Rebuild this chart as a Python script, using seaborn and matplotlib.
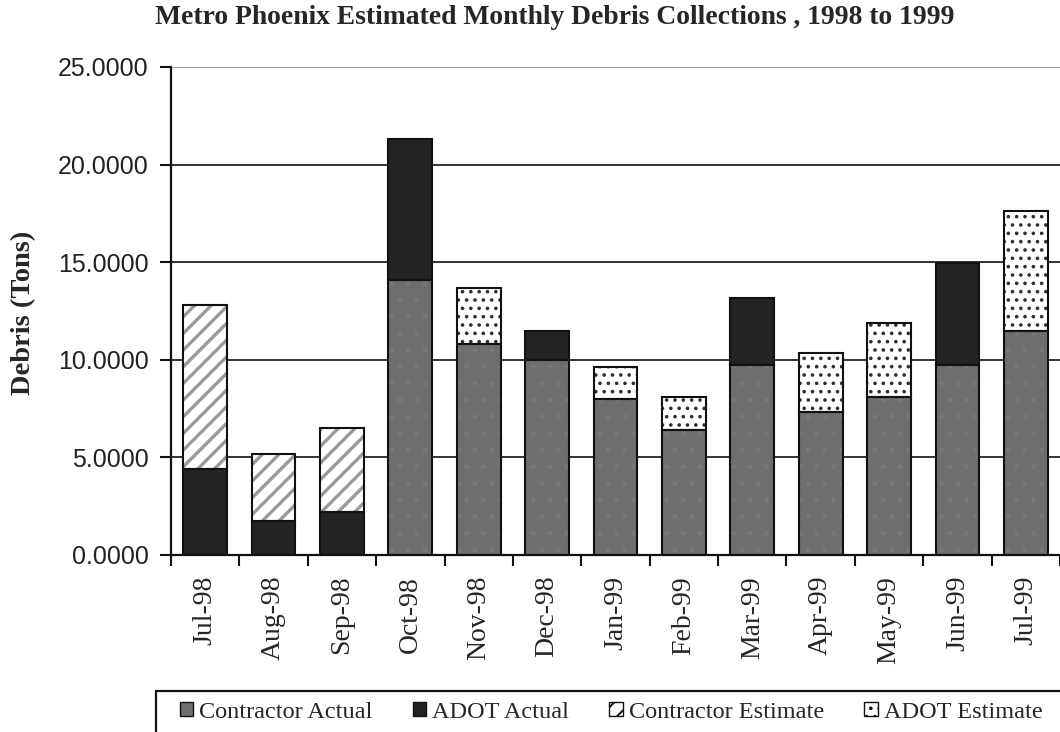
import matplotlib
matplotlib.use("Agg")
import matplotlib.pyplot as plt
from matplotlib.patches import Patch, Rectangle
import seaborn as sns
import numpy as np

months = ['Jul-98', 'Aug-98', 'Sep-98', 'Oct-98', 'Nov-98', 'Dec-98', 'Jan-99',
          'Feb-99', 'Mar-99', 'Apr-99', 'May-99', 'Jun-99', 'Jul-99']
contractor_actual = [0, 0, 0, 14.1, 10.8, 10.0, 8.0, 6.4, 9.75, 7.35, 8.1, 9.75, 11.45]
adot_actual = [4.4, 1.75, 2.2, 7.2, 0, 1.5, 0, 0, 3.4, 0, 0, 5.2, 0]
contractor_estimate = [8.4, 3.4, 4.3, 0, 0, 0, 0, 0, 0, 0, 0, 0, 0]
adot_estimate = [0, 0, 0, 0, 2.9, 0, 1.65, 1.7, 0, 3.0, 3.8, 0, 6.15]
yticks = [0, 5, 10, 15, 20, 25]

sns.set_theme(style='white')
plt.rcParams['font.family'] = ['Liberation Serif', 'DejaVu Serif']

fig = plt.figure(figsize=(10.6, 7.32), dpi=100)
ax = fig.add_axes([171 / 1060, 1 - 555 / 732, 1 - 171 / 1060, (555 - 67) / 732])

x = np.arange(len(months))
w = 0.64
layers = [
    ('Contractor Actual', contractor_actual, '#6e6e6e', '#787878', '.', 1.0),
    ('ADOT Actual', adot_actual, '#232323', '#232323', None, 1.0),
    ('Contractor Estimate', contractor_estimate, 'white', '#9a9a9a', '//', 2.4),
    ('ADOT Estimate', adot_estimate, 'white', '#303030', '..', 1.4),
]
bottom = np.zeros(len(months))
handles = []
for name, vals, fc, hc, hatch, hlw in layers:
    vals = np.array(vals, dtype=float)
    keep = vals > 0
    plt.rcParams['hatch.linewidth'] = hlw
    ax.bar(x[keep], vals[keep], w, bottom=bottom[keep], color=fc,
           edgecolor=hc, hatch=hatch, linewidth=0, zorder=2)
    ax.bar(x[keep], vals[keep], w, bottom=bottom[keep], fill=False,
           edgecolor='#111111', linewidth=1.5, zorder=3)
    handles.append(Patch(facecolor=fc, edgecolor='#111111',
                         hatch=None if fc != 'white' else hatch,
                         linewidth=1.0, label=name))
    bottom = bottom + vals

ax.set_ylim(0, 25)
ax.set_xlim(-0.5, 12.5 - 11 / 69.2)
ax.set_yticks(yticks)
ax.set_yticklabels(['%.4f' % v for v in yticks], fontfamily='Liberation Sans',
                   fontsize=18, color='#222222')
ax.yaxis.grid(True, color='#111111', linewidth=1.2, zorder=0)
ax.get_ygridlines()[-1].set_color('#888888')
ax.set_axisbelow(True)

ax.set_xticks(x)
ax.set_xticklabels(months, rotation=90, fontsize=20, va='top', ha='center')
ax.set_xticks(np.arange(-0.5, 13, 1), minor=True)
ax.tick_params(axis='x', which='major', length=0, pad=15)
ax.tick_params(axis='x', which='minor', length=8, width=1.5, color='#111111',
               direction='out', bottom=True)
ax.tick_params(axis='y', length=8, width=1.5, color='#111111', direction='out',
               left=True, pad=8)

for s in ['top', 'right']:
    ax.spines[s].set_visible(False)
for s in ['left', 'bottom']:
    ax.spines[s].set_color('#111111')
    ax.spines[s].set_linewidth(1.6)

fig.text(24 / 1060, 1 - 313 / 732, 'Debris (Tons)', rotation=90, fontsize=20.5,
         fontweight='bold', ha='center', va='center')
fig.text(555 / 1060, 1 - 18 / 732,
         'Metro Phoenix Estimated Monthly Debris Collections , 1998 to 1999',
         fontsize=19.9, fontweight='bold', ha='center', va='center')

# legend frame runs past the right and bottom edges like the original
fig.patches.append(Rectangle((156 / 1060, 1 - 740 / 732), 920 / 1060, 49 / 732,
                             transform=fig.transFigure, fill=False,
                             edgecolor='#111111', linewidth=1.6))
fig.legend(handles=handles, ncol=4, loc='center left',
           bbox_to_anchor=(180 / 1060, 1 - 712 / 732), fontsize=17.5,
           frameon=False, handlelength=0.55, handleheight=0.55,
           handletextpad=0.25, columnspacing=1.65, borderpad=0, borderaxespad=0)

fig.savefig('out.png', dpi=100)
